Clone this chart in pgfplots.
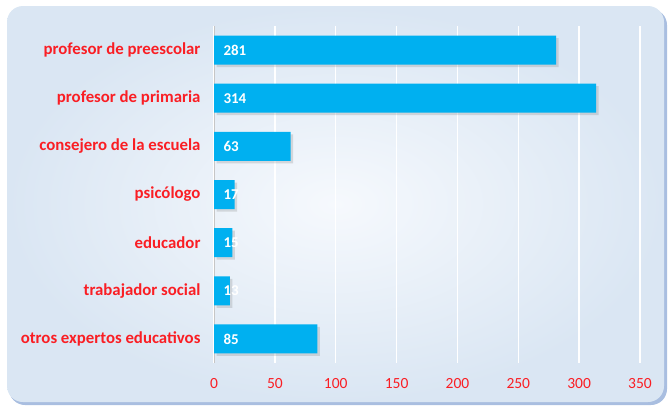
\documentclass[border=0pt]{standalone}
\usepackage{pgfplots}
\usepackage{pgfplotstable}
\usepackage{fontspec}
\setmainfont{Carlito}
\pgfplotsset{compat=1.18}
\usetikzlibrary{shadows}

\definecolor{barblue}{HTML}{00B0F0}
\definecolor{lblred}{HTML}{FA1E24}
\definecolor{bgin}{HTML}{F6F9FD}
\definecolor{bgout}{HTML}{DAE6F3}
\definecolor{bgshadow}{HTML}{A9BEE0}

\pgfplotstableread{
idx value
0 281
1 314
2 63
3 17
4 15
5 13
6 85
}\data

\begin{document}
\begin{tikzpicture}[x=1pt,y=1pt]
% frame of the chart area
\path (0,0) rectangle (669,-408);
\fill[bgshadow, rounded corners=16pt] (9,-9) rectangle (667,-405);
\shade[rounded corners=16pt, inner color=bgin, outer color=bgout] (7,-6) rectangle (664,-402);

\begin{axis}[
    at={(214pt,-363pt)}, anchor=south west,
    scale only axis,
    width=426pt, height=337pt,
    xmin=0, xmax=350,
    ymin=-0.5, ymax=6.5,
    y dir=reverse,
    xtick distance=50,
    ytick={0,...,6},
    yticklabels={profesor de preescolar, profesor de primaria, consejero de la escuela, psicólogo, educador, trabajador social, otros expertos educativos},
    axis lines=left,
    x axis line style={draw=none},
    y axis line style={draw=gray!45, -},
    major tick length=0pt,
    xmajorgrids,
    grid style={white, line width=1.3pt},
    /pgf/number format/assume math mode=true,
    ticklabel style={text=lblred, font=\fontsize{15.5}{15.5}\selectfont},
    y tick label style={font=\bfseries\fontsize{16.8}{16.8}\selectfont, xshift=-10pt},
    x tick label style={yshift=-12pt},
    clip=false,
]
\addplot[xbar, bar width=29pt, fill=barblue, draw=none,
    drop shadow={shadow xshift=2.5pt, shadow yshift=-2.5pt, opacity=0.25}]
    table[x=value, y=idx] {\data};
\addplot[draw=none, mark=none, nodes near coords, point meta=explicit,
    nodes near coords style={anchor=west, xshift=6pt, text=white, font=\bfseries\fontsize{15}{15}\selectfont}]
    table[x expr=0, y=idx, meta=value] {\data};
\end{axis}
\end{tikzpicture}
\end{document}
